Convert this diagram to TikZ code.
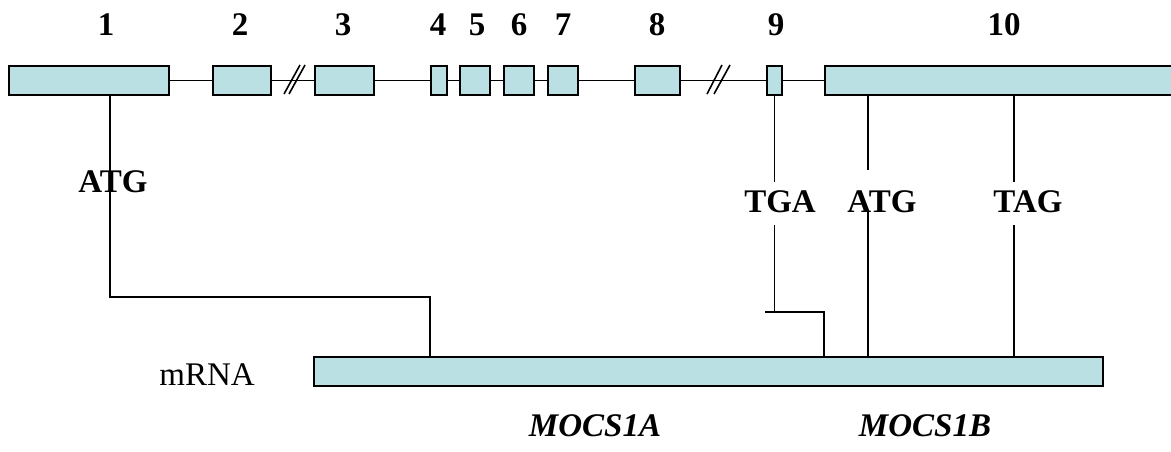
\documentclass[tikz,border=0pt]{standalone}
\usepackage{fontspec}
\setmainfont{Liberation Serif}
\definecolor{exonfill}{RGB}{187,224,227}
\tikzset{
  exon/.style={draw=black, fill=exonfill, line width=1.8pt, rectangle, inner sep=0pt, anchor=north west, minimum height=29pt},
  wire/.style={line width=1.6pt, line cap=butt},
  num/.style={font=\fontsize{33}{40}\selectfont\bfseries, anchor=base, inner sep=0pt},
  codon/.style={font=\fontsize{33}{40}\selectfont\bfseries, anchor=base, inner sep=0pt, text height=30pt, text depth=13pt},
  plain/.style={font=\fontsize{33}{40}\selectfont, anchor=base, inner sep=0pt},
  gene/.style={font=\fontsize{33}{40}\selectfont\bfseries\itshape, anchor=base, inner sep=0pt}
}
\begin{document}
\begin{tikzpicture}[x=1pt,y=-1pt]
\useasboundingbox (0,0) rectangle (1171,452);
\clip (0,0) rectangle (1171,452);
% exons
\node[exon, minimum width=160pt] (e1) at (8,65) {};
\node[exon, minimum width=58pt] (e2) at (212,65) {};
\node[exon, minimum width=59pt] (e3) at (314,65) {};
\node[exon, minimum width=16pt] (e4) at (430,65) {};
\node[exon, minimum width=30pt] (e5) at (459,65) {};
\node[exon, minimum width=30pt] (e6) at (503,65) {};
\node[exon, minimum width=30pt] (e7) at (547,65) {};
\node[exon, minimum width=45pt] (e8) at (634,65) {};
\node[exon, minimum width=15pt] (e9) at (766,65) {};
\node[exon, minimum width=380pt] (e10) at (824,65) {};
% backbone
\draw[wire] (e1.east) -- (e2.west);
\draw[wire] (e2.east) -- (e3.west);
\draw[wire] (e3.east) -- (e4.west);
\draw[wire] (e4.east) -- (e5.west);
\draw[wire] (e5.east) -- (e6.west);
\draw[wire] (e6.east) -- (e7.west);
\draw[wire] (e7.east) -- (e8.west);
\draw[wire] (e8.east) -- (e9.west);
\draw[wire] (e9.east) -- (e10.west);
% breaks
\draw[wire] (284,94) -- (300,65);
\draw[wire] (289,94) -- (305,65);
\draw[wire] (707,94) -- (722,65);
\draw[wire] (714,94) -- (730,65);
% exon numbers
\node[num] (n1) at (106,36) {1};
\node[num] (n2) at (240,36) {2};
\node[num] (n3) at (343,36) {3};
\node[num] (n4) at (438,36) {4};
\node[num] (n5) at (477,36) {5};
\node[num] (n6) at (519,36) {6};
\node[num] (n7) at (563,36) {7};
\node[num] (n8) at (657,36) {8};
\node[num] (n9) at (776,36) {9};
\node[num] (n10) at (1004,36) {10};
% mRNA
\node[exon, minimum width=789pt] (mrna) at (313,356) {};
\node[plain] (mlab) at (207,385) {mRNA};
\node[gene] (g1) at (595,436) {MOCS1A};
\node[gene] (g2) at (925,436) {MOCS1B};
% codon labels
\node[codon] (tga) at (780,212) {TGA};
\node[codon, text height=42pt, text depth=0pt] (atgB) at (882,212) {ATG};
\node[codon] (tag) at (1028,212) {TAG};
% connectors
\coordinate (p1) at (110,94);
\coordinate (m1) at (430,356);
\draw[wire] (p1) -- (110,297) -| (m1);
\node[codon] (atgA) at (113,192) {ATG};
\coordinate (t1) at (773,312);
\coordinate (t0) at (765,312);
\coordinate (m2) at (824,356);
\draw[wire] (e9.south) -- (e9.south |- tga.north);
\draw[wire] (e9.south |- tga.south) -- (e9.south |- t1);
\draw[wire] (t0) -- (t0 -| m2) -- (m2);
\coordinate (b1) at (868,94);
\coordinate (m3) at (868,356);
\draw[wire] (b1) -- (b1 |- atgB.north);
\draw[wire] (b1 |- atgB.south) -- (m3);
\coordinate (c1) at (1014,94);
\coordinate (m4) at (1014,356);
\draw[wire] (c1) -- (c1 |- tag.north);
\draw[wire] (c1 |- tag.south) -- (m4);
\end{tikzpicture}
\end{document}
